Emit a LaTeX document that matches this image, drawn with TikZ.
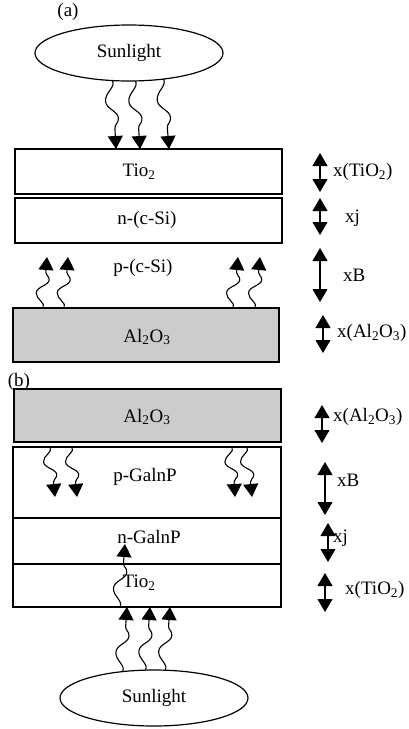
\documentclass[tikz,border=0pt]{standalone}
\usepackage{fontspec}
\setmainfont{Liberation Serif}
\usetikzlibrary{arrows.meta,calc,shapes.geometric}

% wavy light ray: one S-shaped wiggle, then a straight run into the head
\newcommand\wavyray[2]{%
  \draw[ray] (#1)
    .. controls ($(#1)!0.10!(#2)+(3,0)$) and ($(#1)!0.17!(#2)+(-8,0)$)
    .. ($(#1)!0.30!(#2)+(-8,0)$)
    .. controls ($(#1)!0.42!(#2)+(-8,0)$) and ($(#1)!0.44!(#2)+(4,0)$)
    .. ($(#1)!0.55!(#2)+(4,0)$)
    .. controls ($(#1)!0.63!(#2)+(4,0)$) and ($(#1)!0.63!(#2)$)
    .. ($(#1)!0.70!(#2)$) -- (#2);}

\begin{document}
\begin{tikzpicture}[x=1pt,y=-1pt,
  font=\fontsize{19}{22}\selectfont,
  layer/.style={draw, line width=1.4pt, anchor=north west, inner sep=0pt, outer sep=0pt},
  oxide/.style={layer, fill=gray!40},
  sun/.style={ellipse, draw, line width=1.2pt, minimum width=188pt, minimum height=56pt,
              inner sep=0pt, outer sep=0pt},
  ray/.style={line width=1.1pt, -{Triangle[width=15pt,length=13pt]}},
  dim/.style={line width=1.1pt, {Triangle[width=15pt,length=13pt]}-{Triangle[width=15pt,length=13pt]}},
  txt/.style={inner sep=0pt},
  dimlabel/.style={inner sep=0pt, anchor=west}]

\useasboundingbox (0,0) rectangle (409,729);

% ---------------- (a) ----------------
\node[txt] (capA) at (68,12) {(a)};
\node[sun] (sunA) at (129,53) {Sunlight};

\node[layer, minimum width=267pt, minimum height=45pt] (tioA) at (15,149) {};
\node[txt] (tTioA) at (139,172) {Tio\textsubscript{2}};
\node[layer, minimum width=267pt, minimum height=45pt] (nA) at (15,198) {};
\node[txt] (tnA) at (147,220) {n-(c-Si)};
\node[txt] (tpA) at (143,268) {p-(c-Si)};
\node[oxide, minimum width=266pt, minimum height=54pt] (alA) at (13,308) {};
\node[txt] (tAlA) at (147,337) {Al\textsubscript{2}O\textsubscript{3}};

% incoming sunlight
\wavyray{sunA.-121.7}{$(tioA.north west)+(101,0)$}
\wavyray{sunA.-77.9}{$(tioA.north west)+(125,0)$}
\wavyray{sunA.-37.5}{$(tioA.north west)+(154,0)$}

% rays leaving the Al2O3 layer
\coordinate (uA1) at (47,257);
\coordinate (uA2) at (68,257);
\coordinate (uA3) at (238,257);
\coordinate (uA4) at (260,257);
\wavyray{$(alA.north west)+(30,0)$}{uA1}
\wavyray{$(alA.north west)+(51,0)$}{uA2}
\wavyray{$(alA.north west)+(220,0)$}{uA3}
\wavyray{$(alA.north west)+(242,0)$}{uA4}

% thicknesses
\coordinate (dA1t) at (320,153); \coordinate (dA1b) at (320,192);
\coordinate (dA2t) at (320,198); \coordinate (dA2b) at (320,235);
\coordinate (dA3t) at (320,248); \coordinate (dA3b) at (320,302);
\coordinate (dA4t) at (323,315); \coordinate (dA4b) at (323,353);
\draw[dim] (dA1t) -- (dA1b);
\draw[dim] (dA2t) -- (dA2b);
\draw[dim] (dA3t) -- (dA3b);
\draw[dim] (dA4t) -- (dA4b);
\node[dimlabel] (lA1) at (333,172) {x(TiO\textsubscript{2})};
\node[dimlabel] (lA2) at (345,218) {xj};
\node[dimlabel] (lA3) at (343,275) {xB};
\node[dimlabel] (lA4) at (337,333) {x(Al\textsubscript{2}O\textsubscript{3})};

% ---------------- (b) ----------------
\node[txt] (capB) at (19,382) {(b)};
\node[oxide, minimum width=267pt, minimum height=53pt] (alB) at (14,389) {};
\node[txt] (tAlB) at (147,417) {Al\textsubscript{2}O\textsubscript{3}};
\node[layer, minimum width=268pt, minimum height=71pt] (pB) at (13,447) {};
\node[txt] (tpB) at (145,477) {p-GalnP};
\node[layer, minimum width=268pt, minimum height=46pt] (nB) at (13,518) {};
\node[txt] (tnB) at (149,537) {n-GalnP};
\node[layer, minimum width=268pt, minimum height=43pt] (tioB) at (13,564) {};
\node[txt] (tTioB) at (139,583) {Tio\textsubscript{2}};
\node[sun] (sunB) at (154,698) {Sunlight};

% rays leaving the Al2O3 layer into p-GaInP
\coordinate (dB1) at (55,497);
\coordinate (dB2) at (77,497);
\coordinate (dB3) at (235,497);
\coordinate (dB4) at (252,497);
\wavyray{$(pB.north west)+(37,0)$}{dB1}
\wavyray{$(pB.north west)+(59,0)$}{dB2}
\wavyray{$(pB.north west)+(219,0)$}{dB3}
\wavyray{$(pB.north west)+(234,0)$}{dB4}

% incoming sunlight from below
\wavyray{sunB.140.6}{$(tioB.south west)+(114,0)$}
\wavyray{sunB.107.9}{$(tioB.south west)+(137,0)$}
\wavyray{sunB.68.4}{$(tioB.south west)+(157,0)$}

% ray crossing TiO2 into n-GaInP
\coordinate (tipB) at (125,544);
\wavyray{$(tioB.south west)+(107,0)$}{tipB}

% thicknesses
\coordinate (dB1t) at (322,405); \coordinate (dB1b) at (322,443);
\coordinate (dB2t) at (325,462); \coordinate (dB2b) at (325,515);
\coordinate (dB3t) at (328,523); \coordinate (dB3b) at (328,562);
\coordinate (dB4t) at (325,573); \coordinate (dB4b) at (325,612);
\draw[dim] (dB1t) -- (dB1b);
\draw[dim] (dB2t) -- (dB2b);
\draw[dim] (dB3t) -- (dB3b);
\draw[dim] (dB4t) -- (dB4b);
\node[dimlabel] (lB1) at (333,417) {x(Al\textsubscript{2}O\textsubscript{3})};
\node[dimlabel] (lB2) at (337,480) {xB};
\node[dimlabel] (lB3) at (333,538) {xj};
\node[dimlabel] (lB4) at (345,590) {x(TiO\textsubscript{2})};
\end{tikzpicture}
\end{document}
